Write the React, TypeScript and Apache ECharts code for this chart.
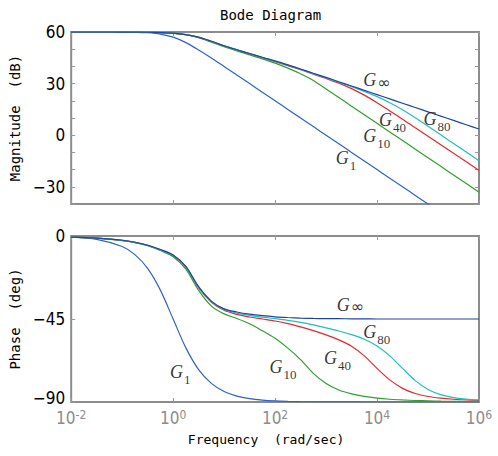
import React, { useEffect, useRef } from 'react';
import * as echarts from 'echarts';

// log10 of frequency (rad/sec)
const LOG_W = [-2, -1.5, -1, -0.75, -0.5, -0.25, 0, 0.25, 0.5, 0.75, 1, 1.25, 1.5, 1.75, 2, 2.25, 2.5, 2.75, 3, 3.25, 3.5, 3.75, 4, 4.25, 4.5, 4.75, 5, 5.25, 5.5, 5.75, 6];

// Magnitude (dB)
const MAG_G1 = [60, 60, 59.96, 59.86, 59.59, 58.81, 56.99, 53.84, 49.59, 44.93, 39.96, 34.99, 29.99, 25, 20, 15, 10, 5, 0, -5, -10, -15, -20, -25, -30, -35, -40, -45, -50, -55, -60];
const MAG_G10 = [60, 60, 59.98, 59.95, 59.84, 59.62, 59.25, 58.4, 56.7, 54.1, 51.4, 49.0, 46.7, 44.4, 41.9, 39.0, 35.7, 31.8, 26.8, 21.9, 16.9, 11.9, 6.9, 1.9, -3.1, -8.1, -13.1, -18.1, -23.1, -28.1, -33.1];
const MAG_G40 = [60, 60, 59.98, 59.95, 59.85, 59.64, 59.28, 58.47, 56.9, 54.5, 51.9, 49.6, 47.3, 45.1, 42.8, 40.4, 38.05, 35.5, 33.0, 30.3, 27.1, 23.3, 18.9, 14.1, 9.3, 4.3, -0.6, -5.5, -10.5, -15.5, -20.5];
const MAG_G80 = [60, 60, 59.98, 59.95, 59.85, 59.65, 59.29, 58.48, 56.95, 54.55, 51.95, 49.65, 47.4, 45.2, 43.0, 40.7, 38.3, 35.8, 33.3, 30.8, 28.2, 25.4, 22.4, 18.9, 14.8, 10.1, 5.2, 0.2, -4.8, -9.8, -14.8];
const MAG_GINF = [60, 60, 59.98, 59.95, 59.85, 59.65, 59.3, 58.5, 57.0, 54.6, 52.0, 49.7, 47.5, 45.3, 43.2, 40.9, 38.5, 36.0, 33.6, 31.1, 28.6, 26.1, 23.6, 21.1, 18.6, 16.1, 13.6, 11.1, 8.6, 6.1, 3.6];

// Phase (deg)
const PH_G1 = [-0.57, -1.81, -5.71, -10.08, -17.55, -29.35, -45, -60.65, -72.45, -79.92, -84.29, -86.78, -88.19, -88.98, -89.43, -89.68, -89.82, -89.9, -89.94, -89.97, -89.98, -89.99, -89.99, -90, -90, -90, -90, -90, -90, -90, -90];
const PH_G10 = [-0.6, -1.2, -2.5, -3.6, -5.3, -7.9, -11.2, -18.0, -29.5, -38.0, -42.2, -44.7, -47.6, -51.4, -55.5, -60.8, -67.0, -74.5, -80.0, -83.5, -85.6, -87.0, -87.9, -88.5, -88.9, -89.2, -89.4, -89.55, -89.65, -89.75, -89.8];
const PH_G40 = [-0.6, -1.2, -2.4, -3.5, -5.1, -7.5, -10.6, -16.9, -28.2, -36.0, -40.3, -42.5, -43.9, -45.0, -46.1, -47.5, -49.3, -51.3, -53.6, -56.3, -59.8, -65.0, -71.8, -78.0, -82.6, -85.4, -87.0, -87.9, -88.5, -88.9, -89.2];
const PH_G80 = [-0.6, -1.2, -2.4, -3.5, -5.1, -7.5, -10.5, -16.7, -27.9, -35.6, -39.8, -41.8, -43.0, -44.0, -44.8, -45.7, -46.8, -48.2, -49.8, -51.5, -53.5, -56.0, -59.6, -65.0, -71.8, -78.4, -83.2, -86.0, -87.6, -88.4, -88.9];
const PH_GINF = [-0.6, -1.2, -2.3, -3.4, -5.0, -7.3, -10.3, -16.5, -27.5, -35.3, -39.5, -41.2, -42.4, -43.2, -43.8, -44.2, -44.5, -44.7, -44.8, -44.85, -44.9, -44.95, -45, -45, -45, -45, -45, -45, -45, -45, -45];

// axis ticks
const X_TICKS = { min: -2, max: 6, interval: 2 };
const MAG_TICKS = { min: -40, max: 60, interval: 10, labelEvery: 30 };
const PH_TICKS = { min: -90, max: 0, interval: 45 };

// curve annotations: [log10 w, value, subscript]
const MAG_NOTES: [number, number, string][] = [
  [3.72, 31.8, '∞'],
  [4.9, 9.1, '80'],
  [4.03, 8.8, '40'],
  [3.72, -0.5, '10'],
  [3.18, -13.8, '1'],
];
const PH_NOTES: [number, number, string][] = [
  [3.2, -37.6, '∞'],
  [3.72, -52.5, '80'],
  [2.95, -66.4, '40'],
  [1.88, -71.1, '10'],
  [-0.07, -74.0, '1'],
];

const CURVES = [
  { name: 'G1', mag: MAG_G1, ph: PH_G1, color: '#2f62c8' },
  { name: 'G10', mag: MAG_G10, ph: PH_G10, color: '#2ea02e' },
  { name: 'G40', mag: MAG_G40, ph: PH_G40, color: '#e8282a' },
  { name: 'G80', mag: MAG_G80, ph: PH_G80, color: '#1fbfbf' },
  { name: 'Ginf', mag: MAG_GINF, ph: PH_GINF, color: '#1f45a3' },
];

const MONO = "'DejaVu Sans Mono','Liberation Mono',monospace";
const NARROW = "'Liberation Sans Narrow','DejaVu Sans Condensed',sans-serif";
const SERIF = "'Liberation Serif','DejaVu Serif',serif";
const GRAY = '#8c8c8c';

export default function App() {
  const ref = useRef<HTMLDivElement>(null);
  useEffect(() => {
    if (!ref.current) return;
    const chart = echarts.init(ref.current, undefined, { renderer: 'svg' });

    const tick = { show: true, inside: true, length: 4, lineStyle: { color: '#999', width: 1 } };
    const noLine = { show: false, onZero: false };
    const baseX = (gridIndex: number, position: 'top' | 'bottom') => ({
      type: 'value' as const,
      gridIndex,
      position,
      min: X_TICKS.min,
      max: X_TICKS.max,
      interval: X_TICKS.interval,
      axisLine: noLine,
      axisTick: tick,
      splitLine: { show: false },
      axisLabel: { show: false },
    });
    const yLabel = {
      show: true,
      margin: 6,
      color: '#000',
      fontFamily: NARROW,
      fontSize: 17,
    };
    const minus = (v: number) => String(v).replace('-', '\u2212');

    const pairs = (vals: number[]) => LOG_W.map((w, i) => [w, vals[i]]);

    const rich = {
      g: { fontFamily: SERIF, fontStyle: 'italic', fontSize: 18, lineHeight: 18, verticalAlign: 'top', color: '#000' },
      s: { fontFamily: SERIF, fontSize: 13, lineHeight: 13, padding: [0, 0, 0, 1], verticalAlign: 'bottom', color: '#000' },
      pad: { fontSize: 1, lineHeight: 23 },
      inf: { fontFamily: 'DejaVu Sans', fontSize: 16, lineHeight: 16, padding: [3, 0, 0, 1], verticalAlign: 'top', color: '#000' },
    };
    const noteSeries = (notes: [number, number, string][], axis: number) => ({
      type: 'scatter',
      xAxisIndex: axis,
      yAxisIndex: axis,
      symbolSize: 1,
      silent: true,
      z: 10,
      itemStyle: { color: 'rgba(0,0,0,0)' },
      label: { show: true, position: 'right', distance: 0, offset: [0, 2], rich },
      data: notes.map(([x, y, sub]) => ({
        value: [x, y],
        label: { formatter: sub === '∞' ? `{g|G}{inf|∞}{pad| }` : `{g|G}{s|${sub}}{pad| }` },
      })),
    });

    chart.setOption({
      animation: false,
      backgroundColor: '#fff',
      title: {
        text: 'Bode Diagram',
        left: 215,
        top: 3,
        textStyle: { fontFamily: MONO, fontSize: 14, fontWeight: 'normal', color: '#000' },
      },
      grid: [
        { left: 64, top: 32, width: 415, height: 172, show: true, borderColor: GRAY, borderWidth: 2, backgroundColor: 'transparent' },
        { left: 64, top: 236, width: 415, height: 166, show: true, borderColor: GRAY, borderWidth: 2, backgroundColor: 'transparent' },
      ],
      xAxis: [
        baseX(0, 'bottom'),
        baseX(0, 'top'),
        {
          ...baseX(1, 'bottom'),
          name: 'Frequency  (rad/sec)',
          nameLocation: 'middle',
          nameGap: 31,
          nameTextStyle: { fontFamily: MONO, fontSize: 13, color: '#000', padding: [0, 18, 0, 0] },
          axisLabel: {
            show: true,
            margin: 7,
            formatter: (v: number) => `{b|10}{e|${v}}`,
            rich: {
              b: { fontFamily: NARROW, fontSize: 17, lineHeight: 17, color: GRAY, verticalAlign: 'bottom' },
              e: { fontFamily: NARROW, fontSize: 12, lineHeight: 12, color: GRAY, verticalAlign: 'top', padding: [0, 0, 11, 0] },
            },
          },
        },
        baseX(1, 'top'),
      ],
      yAxis: [
        {
          type: 'value', gridIndex: 0, position: 'left',
          min: MAG_TICKS.min, max: MAG_TICKS.max, interval: MAG_TICKS.interval,
          axisLine: noLine, axisTick: tick, splitLine: { show: false },
          axisLabel: { ...yLabel, formatter: (v: number) => (v % MAG_TICKS.labelEvery === 0 ? minus(v) : '') },
          name: 'Magnitude  (dB)', nameLocation: 'middle', nameGap: 34,
          nameTextStyle: { fontFamily: MONO, fontSize: 14, color: '#000' },
        },
        {
          type: 'value', gridIndex: 0, position: 'right',
          min: MAG_TICKS.min, max: MAG_TICKS.max, interval: MAG_TICKS.interval,
          axisLine: noLine, axisTick: tick, splitLine: { show: false }, axisLabel: { show: false },
        },
        {
          type: 'value', gridIndex: 1, position: 'left',
          min: PH_TICKS.min, max: PH_TICKS.max, interval: PH_TICKS.interval,
          axisLine: noLine, axisTick: tick, splitLine: { show: false },
          axisLabel: {
            ...yLabel,
            formatter: (v: number) => (v === PH_TICKS.min ? `{lo|${minus(v)}}` : minus(v)),
            rich: { lo: { fontFamily: NARROW, fontSize: 17, lineHeight: 17, color: '#000', padding: [0, 0, 8, 0] } },
          },
          name: 'Phase  (deg)', nameLocation: 'middle', nameGap: 34,
          nameTextStyle: { fontFamily: MONO, fontSize: 14, color: '#000' },
        },
        {
          type: 'value', gridIndex: 1, position: 'right',
          min: PH_TICKS.min, max: PH_TICKS.max, interval: PH_TICKS.interval,
          axisLine: noLine, axisTick: { show: false }, splitLine: { show: false }, axisLabel: { show: false },
        },
      ],
      series: [
        ...CURVES.map((c) => ({
          type: 'line', name: c.name, xAxisIndex: 0, yAxisIndex: 0,
          data: pairs(c.mag), showSymbol: false, symbol: 'none', smooth: 0.3, clip: true,
          lineStyle: { color: c.color, width: 1.2 }, silent: true,
        })),
        ...CURVES.map((c) => ({
          type: 'line', name: c.name + ' phase', xAxisIndex: 2, yAxisIndex: 2,
          data: pairs(c.ph), showSymbol: false, symbol: 'none', smooth: 0.3, clip: true,
          lineStyle: { color: c.color, width: 1.2 }, silent: true,
        })),
        noteSeries(MAG_NOTES, 0),
        noteSeries(PH_NOTES, 2),
      ],
    });
    return () => chart.dispose();
  }, []);

  return <div ref={ref} style={{ position: 'fixed', left: 0, top: 0, width: 498, height: 456 }} />;
}
